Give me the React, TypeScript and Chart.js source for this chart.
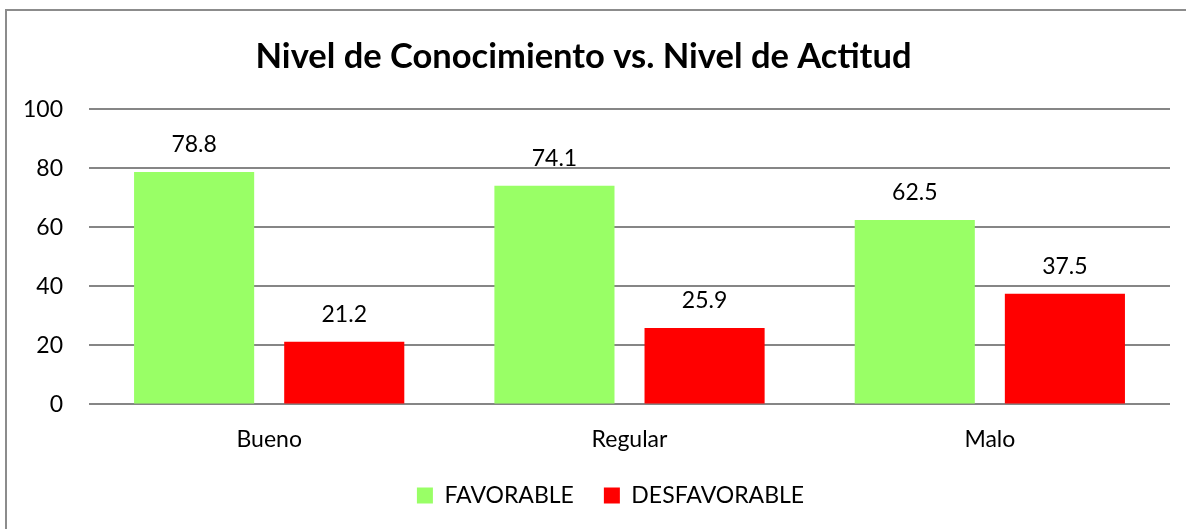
import React, { useEffect, useRef } from "react";
import { Chart, registerables } from "chart.js";

Chart.register(...registerables);

const categories = ["Bueno", "Regular", "Malo"];
const favorable = [78.8, 74.1, 62.5];
const desfavorable = [21.2, 25.9, 37.5];
const yTicks = [0, 20, 40, 60, 80, 100];

const FONT = "Lato, 'Noto Sans', sans-serif";
const FS = 23;

const valueLabels = {
  id: "valueLabels",
  afterDatasetsDraw(chart: any) {
    const ctx = chart.ctx;
    ctx.save();
    ctx.font = `${FS}px ${FONT}`;
    ctx.fillStyle = "#000";
    ctx.textAlign = "center";
    ctx.textBaseline = "bottom";
    chart.data.datasets.forEach((ds: any, i: number) => {
      const meta = chart.getDatasetMeta(i);
      meta.data.forEach((bar: any, j: number) => {
        ctx.fillText(Number(ds.data[j]).toFixed(1), bar.x, bar.y - 16);
      });
    });
    ctx.restore();
  },
};

const legendShift = {
  id: "legendShift",
  afterLayout(chart: any) {
    const lg = chart.legend;
    if (!lg) return;
    lg.left += 27;
    lg.right += 27;
    lg.top -= 12;
    lg.bottom -= 12;
  },
};

export default function App() {
  const ref = useRef<HTMLCanvasElement>(null);
  useEffect(() => {
    if (!ref.current) return;
    const chart = new Chart(ref.current, {
      type: "bar",
      data: {
        labels: categories,
        datasets: [
          { label: "FAVORABLE", data: favorable, backgroundColor: "#99FF66" },
          { label: "DESFAVORABLE", data: desfavorable, backgroundColor: "#FF0000" },
        ],
      },
      options: {
        responsive: false,
        animation: false,
        datasets: { bar: { categoryPercentage: 0.8333, barPercentage: 0.8 } } as any,
        layout: { padding: { left: -3, right: 16, top: 0, bottom: 0 } },
        plugins: {
          title: {
            display: true,
            text: "Nivel de Conocimiento vs. Nivel de Actitud",
            font: { family: FONT, size: 34.5, weight: "bold" },
            color: "#000",
            padding: { top: 36, bottom: 32 },
          },
          legend: {
            position: "bottom",
            labels: {
              font: { family: FONT, size: FS },
              color: "#000",
              boxWidth: 16,
              boxHeight: 16,
              padding: 30,
            },
          },
          tooltip: { enabled: false },
        },
        scales: {
          x: {
            grid: { display: false },
            border: { display: false },
            ticks: { font: { family: FONT, size: FS }, color: "#000", padding: 13 },
          },
          y: {
            min: 0,
            max: 100,
            afterBuildTicks: (axis: any) => {
              axis.ticks = yTicks.map((v) => ({ value: v }));
            },
            grid: { color: "#868686", lineWidth: 2, drawTicks: false },
            border: { display: false },
            ticks: { font: { family: FONT, size: FS }, color: "#000", padding: 26 },
          },
        },
      },
      plugins: [valueLabels, legendShift],
    });
    return () => chart.destroy();
  }, []);
  return (
    <div style={{ position: "fixed", left: 0, top: 0, width: 1186, height: 529, overflow: "hidden", background: "#fff" }}>
      <div style={{ position: "absolute", left: 5, top: 9, width: 1300, height: 700, borderLeft: "2px solid #8c8c8c", borderTop: "2px solid #8c8c8c" }} />
      <canvas ref={ref} width={1186} height={529} style={{ position: "absolute", left: 0, top: 0 }} />
    </div>
  );
}
